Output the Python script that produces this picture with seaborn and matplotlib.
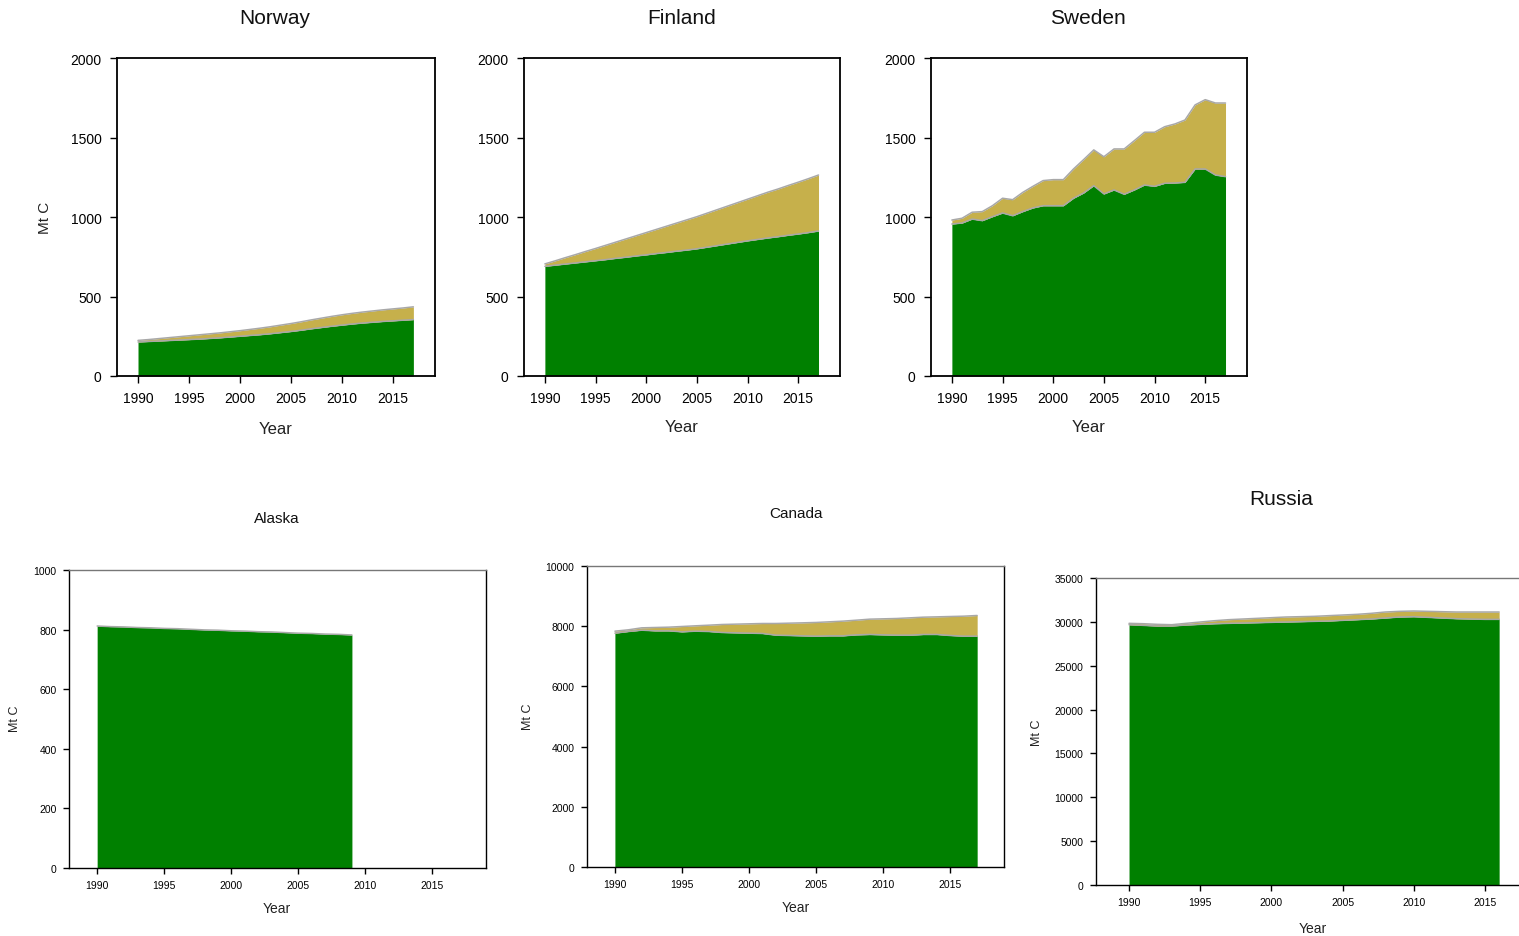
import numpy as np
import pandas as pd
import matplotlib
matplotlib.use("Agg")
import matplotlib.pyplot as plt
import seaborn as sns

sns.set_theme(style="ticks")
plt.rcParams['font.family'] = ['Liberation Sans', 'DejaVu Sans']

# ---- data (Mt C) -------------------------------------------------------
years_1990_2017 = list(range(1990, 2018))
years_1990_2016 = list(range(1990, 2017))
years_1990_2009 = list(range(1990, 2010))

norway_live = [214, 217, 220, 223, 226, 229, 232, 236, 240, 245, 250, 255, 260, 266,
               273, 280, 288, 297, 305, 313, 320, 327, 333, 338, 343, 347, 351, 355]
norway_dead = [10, 12, 15, 18, 21, 24, 27, 29, 31, 33, 35, 38, 41, 44,
               47, 50, 53, 56, 59, 62, 65, 67, 69, 71, 73, 75, 77, 80]

finland_live = [690, 697, 704, 711, 718, 725, 732, 740, 747, 755, 762, 770, 777, 785,
                792, 800, 810, 820, 830, 840, 850, 859, 868, 876, 885, 893, 902, 912]
finland_dead = [15, 27, 40, 52, 65, 77, 90, 102, 115, 127, 140, 152, 165, 177,
                190, 202, 214, 226, 238, 250, 262, 275, 288, 300, 313, 326, 339, 352]

sweden_live = [956, 962, 987, 977, 1002, 1025, 1008, 1034, 1057, 1071, 1071, 1071, 1118, 1151,
               1197, 1145, 1170, 1143, 1170, 1201, 1193, 1212, 1214, 1218, 1302, 1302, 1264, 1254]
sweden_dead = [25, 30, 43, 57, 69, 93, 101, 121, 136, 158, 164, 164, 184, 210,
               225, 234, 258, 285, 310, 332, 340, 356, 371, 392, 403, 436, 453, 463]

alaska_live = [812, 810, 809, 807, 806, 804, 803, 801, 799, 798,
               796, 795, 793, 792, 790, 788, 787, 785, 784, 782]
alaska_dead = [0] * 20

canada_live = [7769, 7824, 7868, 7846, 7846, 7813, 7835, 7824, 7791, 7780, 7769, 7758, 7702, 7691,
               7680, 7669, 7680, 7680, 7713, 7725, 7713, 7702, 7702, 7725, 7725, 7691, 7669, 7669]
canada_dead = [66, 56, 78, 111, 122, 177, 178, 210, 266, 288, 310, 332, 388, 410,
               432, 455, 466, 488, 487, 509, 532, 554, 576, 575, 586, 631, 664, 687]

russia_live = [29675, 29600, 29526, 29526, 29640, 29716, 29790, 29830, 29868, 29906, 29944, 29982,
               30020, 30058, 30096, 30172, 30248, 30324, 30438, 30552, 30590, 30514, 30438, 30362,
               30324, 30286, 30286]
russia_dead = [155, 190, 190, 149, 190, 266, 340, 418, 456, 494, 532, 570,
               570, 570, 608, 608, 608, 646, 684, 646, 646, 684, 722, 760,
               798, 836, 836]

year_ticks = [1990, 1995, 2000, 2005, 2010, 2015]

GREEN = "#008000"
TAN = "#C6B04B"
EDGE = "#A8A8A8"

W, H = 1519, 937
fig = plt.figure(figsize=(W / 100, H / 100), dpi=100)


def rect(left, top, right, bottom):
    return [left / W, 1 - bottom / H, (right - left) / W, (bottom - top) / H]


panels = [
    dict(name="Norway", years=years_1990_2017, live=norway_live, dead=norway_dead,
         box=(117, 59, 435, 377), xlim=(1987.94, 2019.12), ylim=(0, 2000),
         yticks=[0, 500, 1000, 1500, 2000], title=(275, 18, 15), xlab=(276, 430, 12),
         ylab=(45, 218, 11), tick=10, row="top"),
    dict(name="Finland", years=years_1990_2017, live=finland_live, dead=finland_dead,
         box=(524, 59, 840, 377), xlim=(1987.94, 2019.12), ylim=(0, 2000),
         yticks=[0, 500, 1000, 1500, 2000], title=(682, 18, 15), xlab=(682, 428, 12),
         ylab=None, tick=10, row="top"),
    dict(name="Sweden", years=years_1990_2017, live=sweden_live, dead=sweden_dead,
         box=(931, 59, 1247, 377), xlim=(1987.94, 2019.12), ylim=(0, 2000),
         yticks=[0, 500, 1000, 1500, 2000], title=(1088, 18, 15), xlab=(1089, 428, 12),
         ylab=None, tick=10, row="top"),
    dict(name="Alaska", years=years_1990_2009, live=alaska_live, dead=alaska_dead,
         box=(69, 571, 486, 869), xlim=(1987.9, 2019.0), ylim=(0, 1000),
         yticks=[0, 200, 400, 600, 800, 1000], title=(277, 519, 11), xlab=(277, 909, 10),
         ylab=(15, 719, 9), tick=7.5, row="bottom"),
    dict(name="Canada", years=years_1990_2017, live=canada_live, dead=canada_dead,
         box=(587, 567, 1004, 868), xlim=(1987.92, 2019.0), ylim=(0, 10000),
         yticks=[0, 2000, 4000, 6000, 8000, 10000], title=(796, 514, 11), xlab=(796, 908, 10),
         ylab=(528, 717, 9), tick=7.5, row="bottom"),
    dict(name="Russia", years=years_1990_2016, live=russia_live, dead=russia_dead,
         box=(1096, 579, 1539, 886), xlim=(1987.68, 2018.8), ylim=(0, 35000),
         yticks=[0, 5000, 10000, 15000, 20000, 25000, 30000, 35000], title=(1281, 500, 15),
         xlab=(1313, 929, 10), ylab=(1037, 733, 9), tick=7.5, row="bottom"),
]

for p in panels:
    left, top, right, bottom = p["box"]
    ax = fig.add_axes(rect(left, top, right, bottom))
    live = np.array(p["live"], dtype=float)
    dead = np.array(p["dead"], dtype=float)
    ax.stackplot(p["years"], live, dead, colors=[GREEN, TAN], linewidth=0)

    df = pd.DataFrame({"Year": p["years"], "live": live, "total": live + dead})
    sns.lineplot(data=df, x="Year", y="live", color=EDGE, lw=1.1, ax=ax)
    if dead.sum() > 0:
        sns.lineplot(data=df, x="Year", y="total", color=EDGE, lw=1.1, ax=ax)

    ax.set_xlim(*p["xlim"])
    ax.set_ylim(*p["ylim"])
    ax.set_xticks(year_ticks)
    ax.set_yticks(p["yticks"])
    ax.set_xticklabels([str(t) for t in year_ticks])
    ax.set_yticklabels([str(t) for t in p["yticks"]])

    top_row = p["row"] == "top"
    lw = 1.3 if top_row else 1.0
    for s in ax.spines.values():
        s.set_visible(True)
        s.set_color("black")
        s.set_linewidth(lw)
    if not top_row:
        ax.spines["top"].set_color("#777777")
    ax.tick_params(axis="both", direction="out", length=5 if top_row else 4,
                   width=1.0, colors="black", labelsize=p["tick"],
                   pad=6 if top_row else 5)
    ax.grid(False)

    # axis labels placed in figure pixels, converted to axes fractions
    def to_axes(px, py):
        return (px - left) / (right - left), (bottom - py) / (bottom - top)

    xl_x, xl_y, xl_fs = p["xlab"]
    ax.set_xlabel("Year", fontsize=xl_fs, color="#222222")
    ax.xaxis.label.set_va("center")
    ax.xaxis.set_label_coords(*to_axes(xl_x, xl_y))
    if p["ylab"] is not None:
        yl_x, yl_y, yl_fs = p["ylab"]
        ax.set_ylabel("Mt C", fontsize=yl_fs, color="#222222")
        ax.yaxis.label.set_va("center")
        ax.yaxis.set_label_coords(*to_axes(yl_x, yl_y))
    else:
        ax.set_ylabel("")

    tx, ty, tfs = p["title"]
    fig.text(tx / W, 1 - ty / H, p["name"], ha="center", va="center",
             fontsize=tfs, color="#111111")

fig.savefig("out.png", dpi=100, facecolor="white")
